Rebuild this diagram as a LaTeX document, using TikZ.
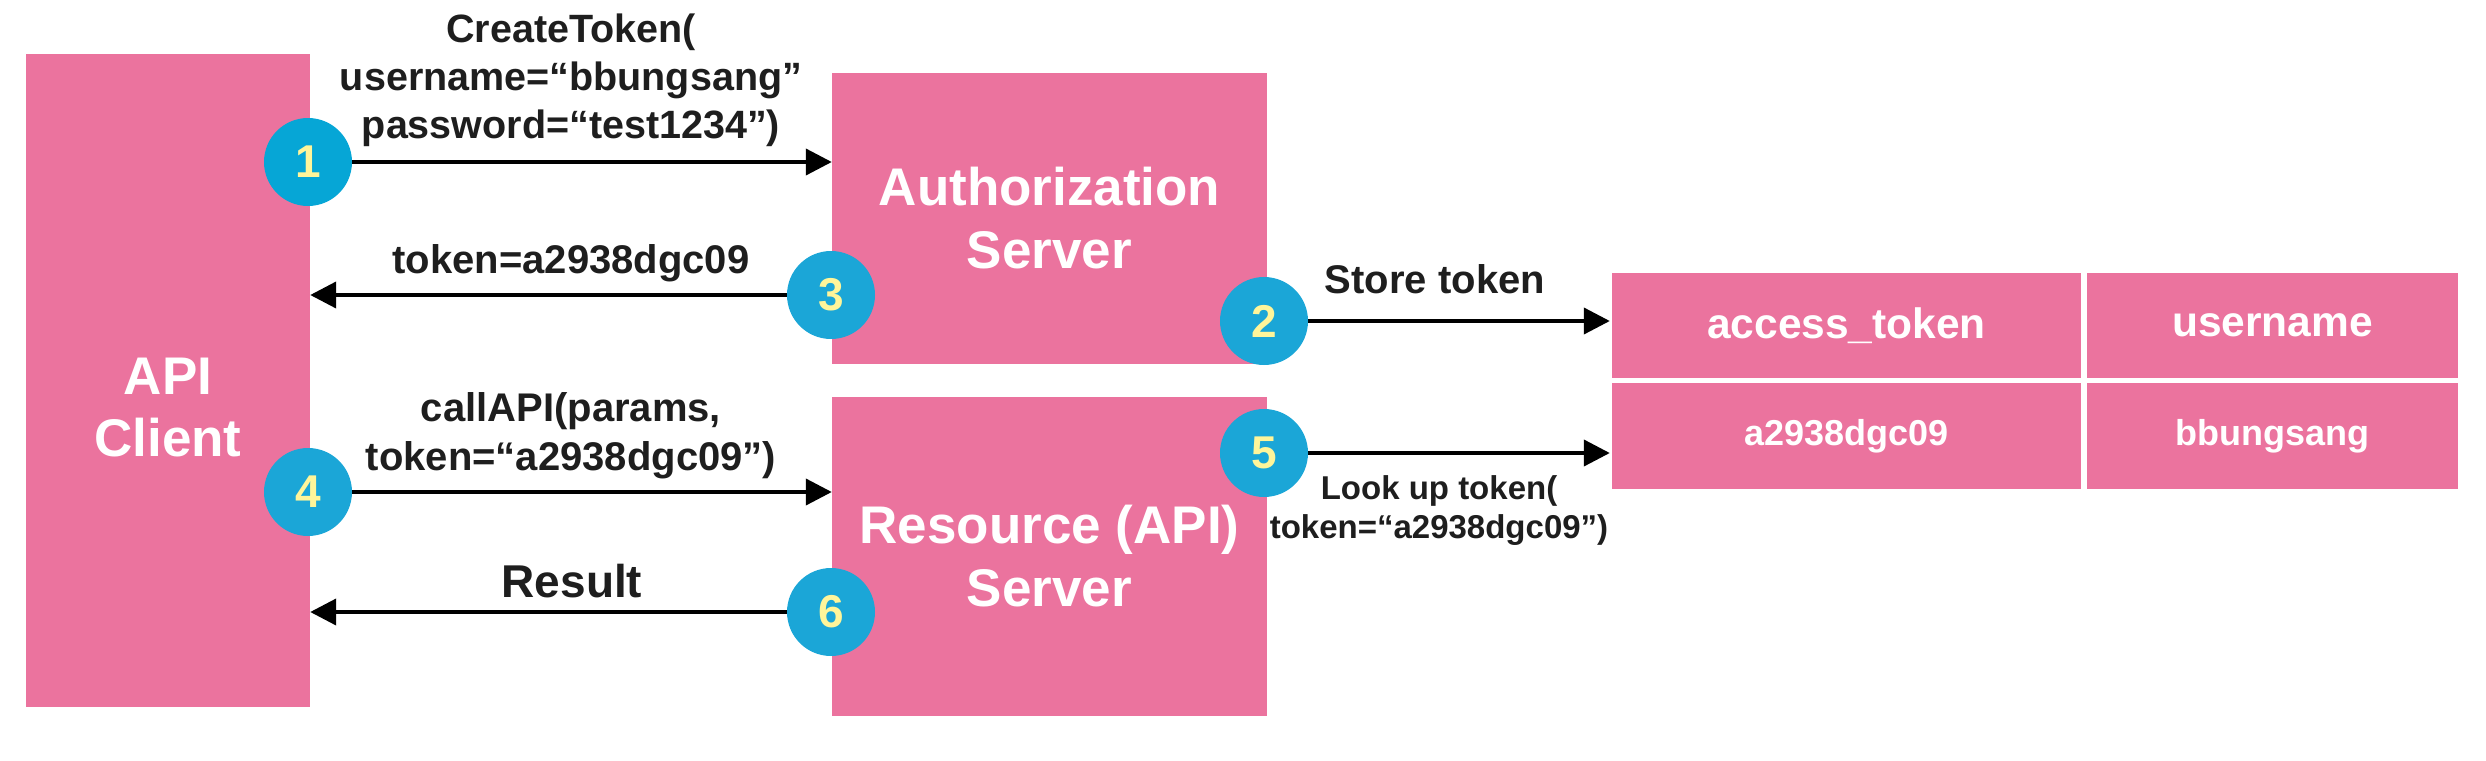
\documentclass[tikz,border=0pt]{standalone}
\usepackage{fontspec}
\setmainfont{Liberation Sans}
\usetikzlibrary{arrows.meta}
\definecolor{boxpink}{HTML}{EB739E}
\definecolor{numblue}{HTML}{1BA6D7}
\definecolor{numblueA}{HTML}{06A6D6}
\definecolor{numyellow}{HTML}{FFF59A}
\definecolor{labelgray}{HTML}{1E1E1E}
\begin{document}
\begin{tikzpicture}[x=1pt,y=-1pt,
  box/.style={fill=boxpink, draw=none, inner sep=0pt, text=white,
    font=\fontsize{53}{63}\selectfont\bfseries, align=center},
  cell/.style={fill=boxpink, draw=none, inner sep=0pt, text=white,
    font=\fontsize{42.5}{50}\selectfont\bfseries},
  cellval/.style={cell, font=\fontsize{36}{42}\selectfont\bfseries},
  title/.style={inner sep=0pt, text=white, align=center,
    font=\fontsize{53}{62}\selectfont\bfseries},
  num/.style={circle, fill=numblue, minimum size=88pt, inner sep=0pt,
    text=numyellow, font=\fontsize{46}{46}\selectfont\bfseries},
  lbl/.style={inner sep=0pt, text=labelgray, align=center,
    font=\fontsize{40}{48}\selectfont\bfseries},
  arr/.style={line width=4pt, draw=black, -{Triangle[length=26pt,width=26pt]}}
]
\useasboundingbox (0,0) rectangle (2486,760);

% main boxes
\node[box, minimum width=284pt, minimum height=653pt] (client) at (168,380.5) {};
\node[title] (clientlbl) at (168,408) {API\\Client};
\node[box, minimum width=435pt, minimum height=291pt] (auth) at (1049.5,218.5) {Authorization\\Server};
\node[box, minimum width=435pt, minimum height=319pt] (res) at (1049.5,556.5) {Resource (API)\\Server};

% table
\node[cell, minimum width=469pt, minimum height=105pt] (c11) at (1846.5,325.5) {access\_token};
\node[cell, minimum width=371pt, minimum height=105pt] (c12) at (2272.5,325.5) {username};
\node[cellval, minimum width=469pt, minimum height=106pt] (c21) at (1846.5,436) {a2938dgc09};
\node[cellval, minimum width=371pt, minimum height=106pt] (c22) at (2272.5,436) {bbungsang};

% step circles (positions)
\coordinate (p1) at (308,162);
\coordinate (p3) at (831,295);
\coordinate (p2) at (1264,321);
\coordinate (p5) at (1264,453);
\coordinate (p4) at (308,492);
\coordinate (p6) at (831,612);

% arrows
\draw[arr] (p1) -- (p1 -| auth.west);
\draw[arr] (p3) -- (p3 -| client.east);
\draw[arr] (p2) -- ([xshift=-2pt]p2 -| c11.west);
\draw[arr] (p5) -- ([xshift=-2pt]p5 -| c21.west);
\draw[arr] (p4) -- (p4 -| res.west);
\draw[arr] (p6) -- (p6 -| client.east);

% circles
\node[num, fill=numblueA] (n1) at (p1) {1};
\node[num] (n3) at (p3) {3};
\node[num] (n2) at (p2) {2};
\node[num] (n5) at (p5) {5};
\node[num] (n4) at (p4) {4};
\node[num] (n6) at (p6) {6};

% labels
\node[lbl, font=\fontsize{39.5}{48}\selectfont\bfseries] (l1) at (571,80)
  {CreateToken(\\username=“bbungsang”\\password=“test1234”)};
\node[lbl] (l3) at (571,263) {token=a2938dgc09};
\node[lbl, font=\fontsize{40}{49}\selectfont\bfseries] (l4) at (571,436)
  {callAPI(params,\\token=“a2938dgc09”)};
\node[lbl, font=\fontsize{46}{50}\selectfont\bfseries] (l6) at (572,581) {Result};
\node[lbl] (l2) at (1435,279) {Store token};
\node[lbl, font=\fontsize{33}{39}\selectfont\bfseries] (l5) at (1439,511)
  {Look up token(\\token=“a2938dgc09”)};
\end{tikzpicture}
\end{document}
